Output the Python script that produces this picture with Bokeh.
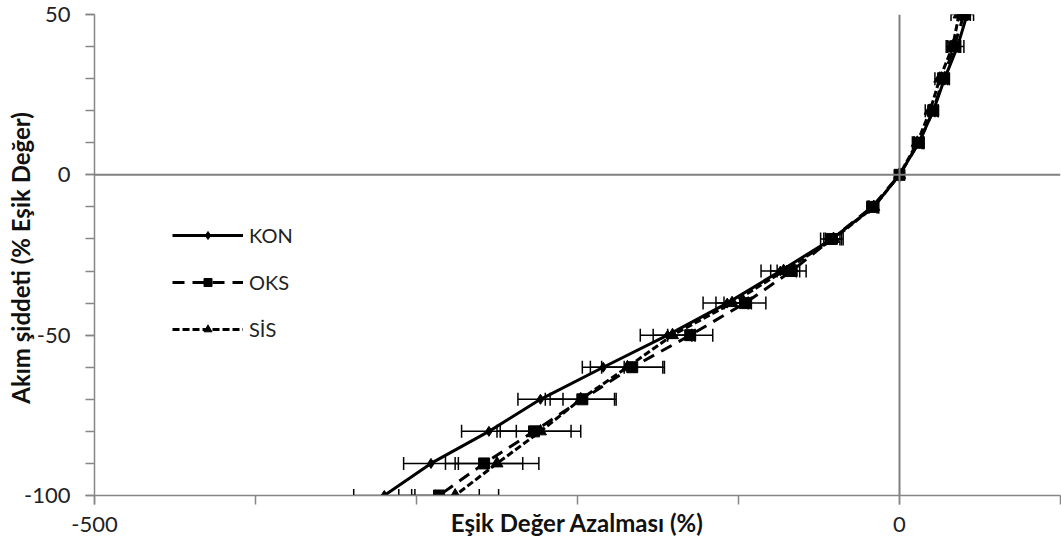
from bokeh.plotting import figure
from bokeh.models import (ColumnDataSource, Range1d, FixedTicker, Span,
                          Whisker, TeeHead, Legend, LegendItem)
from bokeh.embed import file_html
from bokeh.resources import INLINE

# ---- data ----
current = [50, 40, 30, 20, 10, 0, -10, -20, -30, -40, -50, -60, -70, -80, -90, -100]

kon = [42, 36, 28, 21, 12, 0, -16, -42, -74, -107, -144, -184, -223, -255, -291, -320]
kon_err = [4, 4, 3, 3, 3, 0, 3, 7, 12, 15, 17, 13, 14, 17, 17, 19]

oks = [40, 34, 27, 21, 12, 0, -17, -42, -67, -96, -130, -166, -197, -227, -258, -286]
oks_err = [4, 4, 3, 3, 3, 0, 3, 5, 9, 13, 14, 19, 20, 23, 24, 25]

sis = [37, 33, 25, 19, 11, 0, -16, -41, -72, -104, -141, -169, -198, -223, -250, -276]
sis_err = [5, 4, 3, 3, 3, 0, 3, 5, 8, 10, 12, 23, 22, 25, 26, 27]

series_names = ["KON", "OKS", "SİS"]
x_ticks = [-500, 0]
x_tick_labels = ["-500", "0"]
x_minor = [-500, -400, -300, -200, -100, 0, 100]
y_ticks = [-100, -50, 0, 50]
y_tick_labels = ["-100", "-50", "0", "50"]
y_minor = [-100, -90, -80, -70, -60, -50, -40, -30, -20, -10, 0, 10, 20, 30, 40, 50]

x_title = "Eşik Değer Azalması (%)"
y_title = "Akım şiddeti  (% Eşik Değer)"

FONT = "Lato"
AX = "#868686"

p = figure(width=1061, height=554, output_backend="svg", toolbar_location=None,
           x_range=Range1d(-500, 100), y_range=Range1d(-100, 50),
           min_border_left=94, min_border_right=1, min_border_top=14,
           min_border_bottom=59)
p.outline_line_color = None
p.xgrid.visible = False
p.ygrid.visible = False
p.background_fill_color = "white"
p.border_fill_color = "white"

for ax in (p.xaxis[0], p.yaxis[0]):
    ax.axis_line_color = AX
    ax.axis_line_width = 1.5
    ax.major_tick_line_color = AX
    ax.minor_tick_line_color = AX
    ax.major_tick_line_width = 1.5
    ax.minor_tick_line_width = 1.5
    ax.major_tick_in = 0
    ax.major_tick_out = 9
    ax.minor_tick_in = 0
    ax.minor_tick_out = 9
    ax.major_label_text_font = FONT
    ax.major_label_text_font_size = "22px"
    ax.major_label_text_color = "#222222"
    ax.axis_label_text_font = FONT
    ax.axis_label_text_font_size = "24px"
    ax.axis_label_text_font_style = "bold"
    ax.axis_label_text_color = "#111111"

p.xaxis[0].ticker = FixedTicker(ticks=x_ticks, minor_ticks=x_minor)
p.yaxis[0].ticker = FixedTicker(ticks=y_ticks, minor_ticks=y_minor)
p.xaxis[0].major_label_overrides = dict(zip(x_ticks, x_tick_labels))
p.yaxis[0].major_label_overrides = dict(zip(y_ticks, y_tick_labels))
p.xaxis[0].major_label_standoff = 12
p.yaxis[0].major_label_standoff = 15

p.xaxis[0].axis_label = x_title
p.xaxis[0].axis_label_standoff = -27
p.yaxis[0].axis_label = y_title
p.yaxis[0].axis_label_standoff = -14

p.add_layout(Span(location=0, dimension="width", line_color="#808080", line_width=2))
p.add_layout(Span(location=0, dimension="height", line_color="#808080", line_width=2))

styles = [
    dict(vals=kon, err=kon_err, dash="solid", marker="diamond", size=10),
    dict(vals=oks, err=oks_err, dash="12 8", marker="square", size=11),
    dict(vals=sis, err=sis_err, dash="7 3", marker="triangle", size=12),
]

items = []
for name, st in zip(series_names, styles):
    lo = [v - e for v, e in zip(st["vals"], st["err"])]
    hi = [v + e for v, e in zip(st["vals"], st["err"])]
    src = ColumnDataSource(dict(x=st["vals"], y=current, lo=lo, hi=hi))
    w = Whisker(source=src, base="y", lower="lo", upper="hi", dimension="width",
                line_color="black", line_width=1.5,
                upper_head=TeeHead(size=13, line_color="black", line_width=1.5),
                lower_head=TeeHead(size=13, line_color="black", line_width=1.5))
    p.add_layout(w)
    ln = p.line("x", "y", source=src, line_color="black", line_width=3,
                line_dash=st["dash"])
    mk = p.scatter("x", "y", source=src, marker=st["marker"], size=st["size"],
                   fill_color="black", line_color="black")
    items.append(LegendItem(label=name, renderers=[ln, mk]))

legend = Legend(items=items, location=(78, 154), orientation="vertical",
                padding=0, margin=0, spacing=23, glyph_width=71, glyph_height=20,
                label_height=20, label_standoff=6,
                label_text_font=FONT, label_text_font_size="20px",
                label_text_color="#222222",
                border_line_color=None, background_fill_alpha=0)
p.add_layout(legend)

open("out.html", "w").write(file_html(p, INLINE))
